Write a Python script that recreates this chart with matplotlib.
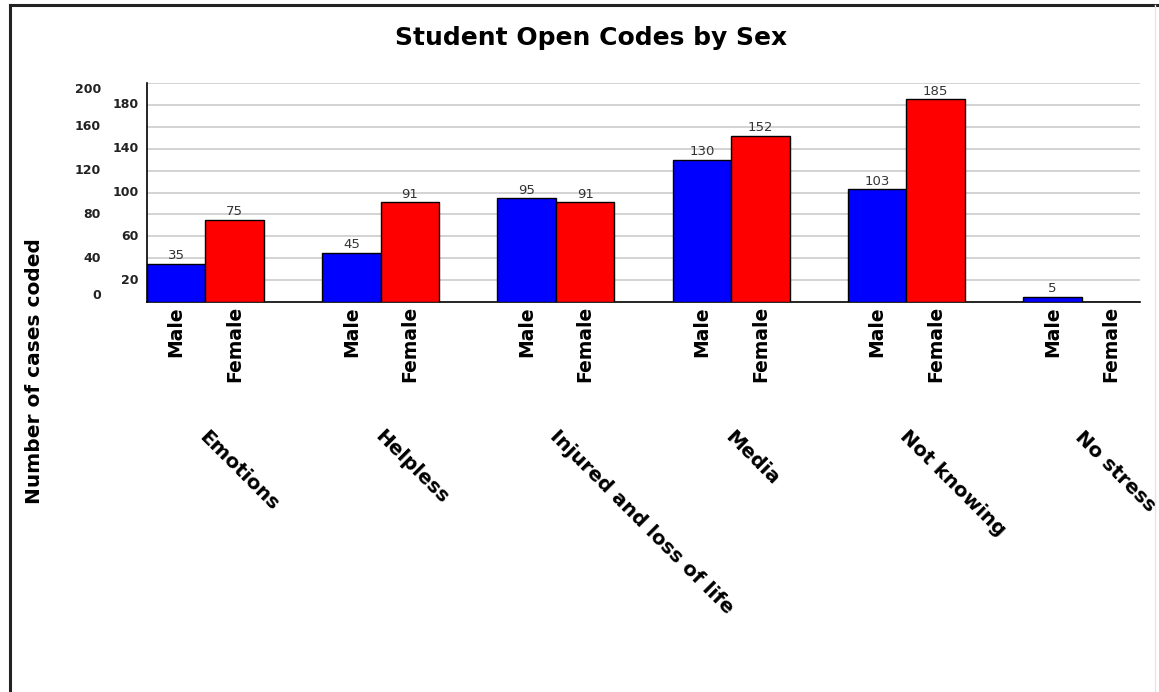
import matplotlib
matplotlib.use("Agg")
import matplotlib.pyplot as plt
import matplotlib.transforms as mtransforms
from matplotlib.lines import Line2D
import numpy as np

plt.rcParams['font.family'] = ['DejaVu Sans']

title = "Student Open Codes by Sex"
y_label = "Number of cases coded"
categories = ["Emotions", "Helpless", "Injured and loss of life",
              "Media", "Not knowing", "No stress"]
sexes = ["Male", "Female"]
male_counts = [35, 45, 95, 130, 103, 5]
female_counts = [75, 91, 91, 152, 185, 0]
ticks_outer = [0, 40, 80, 120, 160, 200]
ticks_inner = [20, 60, 100, 140, 180]

W, H = 1159, 692
fig = plt.figure(figsize=(W / 100, H / 100), dpi=100)
fig.patch.set_facecolor("white")

# axes box in pixel terms
left_px, right_px, top_px, base_px = 147, 1140, 83, 302
ax = fig.add_axes([left_px / W, 1 - base_px / H,
                   (right_px - left_px) / W, (base_px - top_px) / H])

bw = 1 / 3
x = np.arange(len(categories))
ax.bar(x - bw / 2, male_counts, width=bw, color="#0000FF",
       edgecolor="black", linewidth=1.0, zorder=3)
ax.bar(x + bw / 2, female_counts, width=bw, color="#FF0000",
       edgecolor="black", linewidth=1.0, zorder=3)

# value labels above bars (zero values carry no label)
for xs, vals in ((x - bw / 2, male_counts), (x + bw / 2, female_counts)):
    for xi, v in zip(xs, vals):
        if v:
            ax.annotate(str(v), (xi, v), xytext=(0, 1), textcoords="offset points",
                        ha="center", va="bottom", fontsize=9.5, color="#333333",
                        zorder=4)

ax.set_xlim(-bw, len(categories) - 1 + bw)
ax.set_ylim(0, 200)

# horizontal grid every 20
for g in range(20, 201, 20):
    ax.axhline(g, color="#cccccc", linewidth=1.2, zorder=1)

for s in ("top", "right"):
    ax.spines[s].set_visible(False)
ax.spines["left"].set_linewidth(1.2)
ax.spines["bottom"].set_linewidth(1.2)

# sub-category tick labels (Male / Female)
sub_pos = np.concatenate([x - bw / 2, x + bw / 2])
sub_lab = [sexes[0]] * len(x) + [sexes[1]] * len(x)
ax.set_xticks(sub_pos)
ax.set_xticklabels(sub_lab, rotation=90, fontsize=13.5, fontweight="bold",
                   va="top", ha="center")
ax.tick_params(axis="x", length=0, pad=3)

# two staggered columns of y tick labels
ax.set_yticks([])
ax.tick_params(axis="y", length=0)
ytr = mtransforms.blended_transform_factory(ax.transAxes, ax.transData)
for v in ticks_inner:
    ax.text(-8 / (right_px - left_px), v, str(v), transform=ytr, ha="right",
            va="center", fontsize=9, fontweight="bold", color="#222222")
for v in ticks_outer:
    va = "bottom" if v == ticks_outer[0] else ("top" if v == ticks_outer[-1] else "center")
    ax.text(-46 / (right_px - left_px), v, str(v), transform=ytr, ha="right",
            va=va, fontsize=9, fontweight="bold", color="#222222")

# category labels, slanted, below the Male/Female labels
ctr = mtransforms.blended_transform_factory(ax.transData, ax.transAxes)
for xi, c in zip(x, categories):
    ax.text(xi + 0.02, -(427 - base_px) / (base_px - top_px), c, transform=ctr,
            rotation=-45, rotation_mode="anchor", ha="left", va="top",
            fontsize=14.3, fontweight="bold", color="black")

fig.text(591 / W, 1 - 38 / H, title, ha="center", va="center",
         fontsize=18, fontweight="bold")
fig.text(35 / W, 1 - 371 / H, y_label, rotation=90, ha="center", va="center",
         fontsize=14.5, fontweight="bold")

# window frame
fig.add_artist(Line2D([10 / W, 10 / W], [0, 1 - 5 / H], color="#222222",
                      linewidth=2.2, transform=fig.transFigure))
fig.add_artist(Line2D([10 / W, 1157 / W], [1 - 5 / H, 1 - 5 / H], color="#222222",
                      linewidth=2.2, transform=fig.transFigure))
fig.add_artist(Line2D([1155 / W, 1155 / W], [0, 1 - 5 / H], color="#e6e6e6",
                      linewidth=1.0, transform=fig.transFigure))

fig.savefig("out.png", dpi=100, facecolor="white")
